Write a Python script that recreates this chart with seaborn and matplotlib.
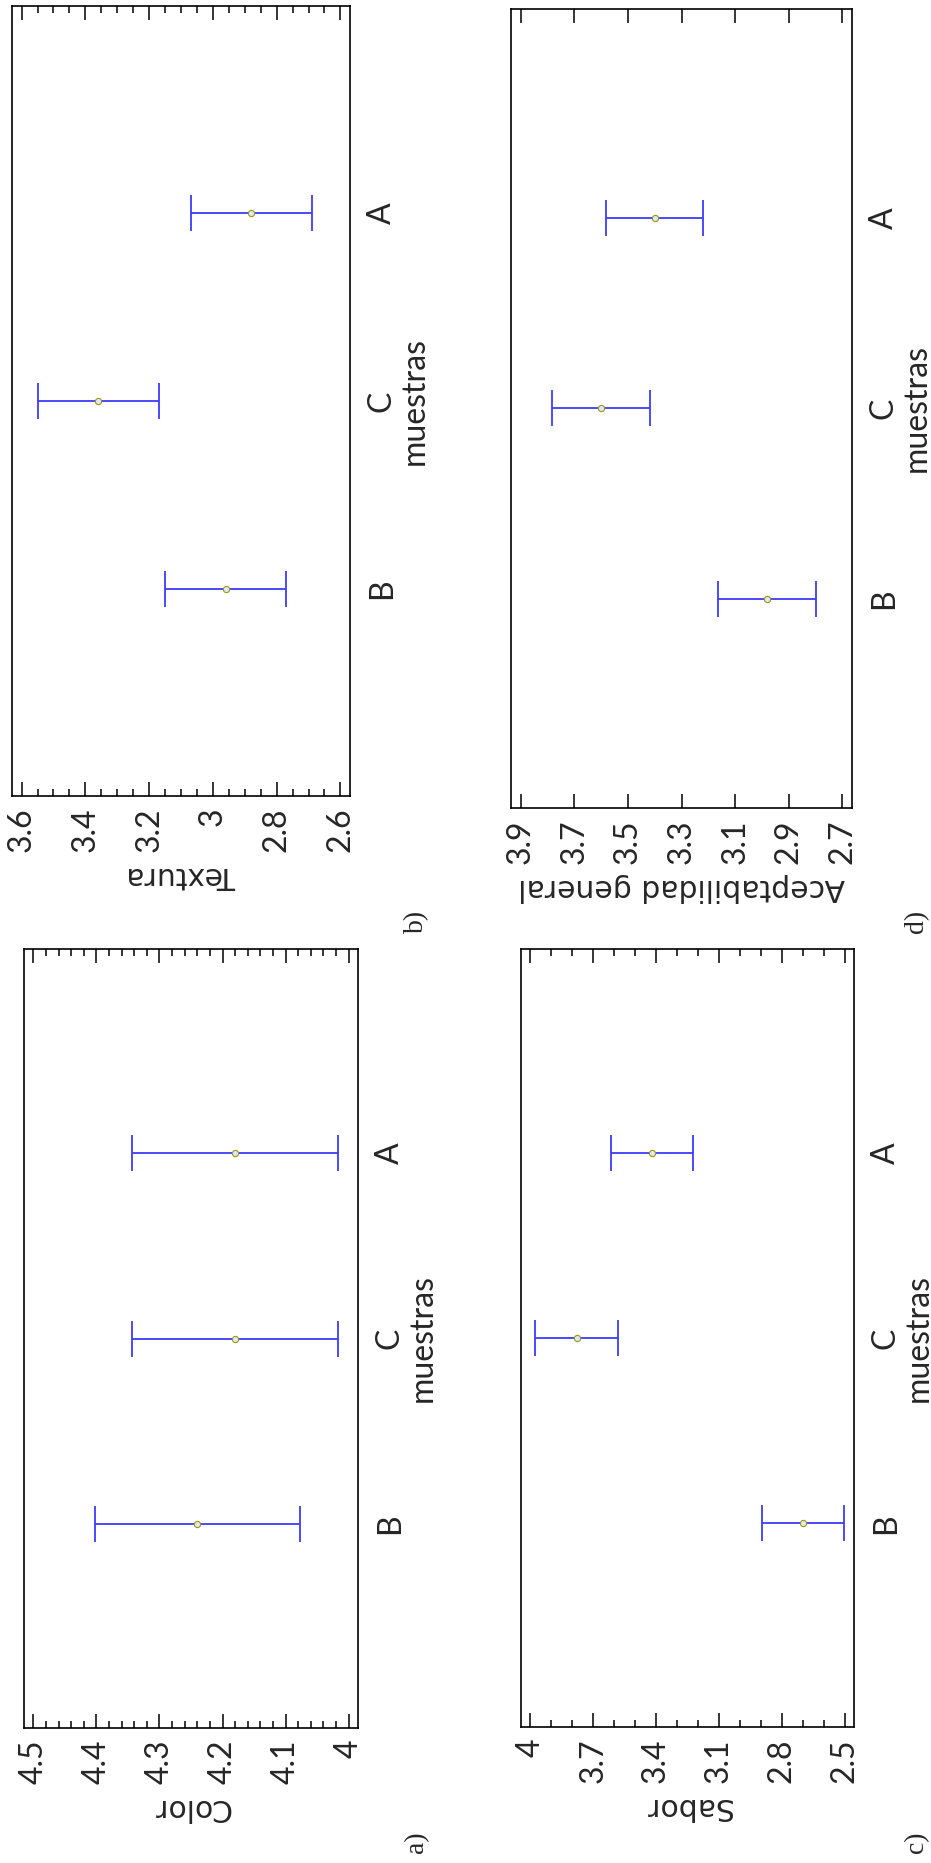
import numpy as np
import pandas as pd
import matplotlib
matplotlib.use("Agg")
import matplotlib.pyplot as plt
from matplotlib.ticker import MultipleLocator, NullLocator
import seaborn as sns

# ---------------- data ----------------
categories = ["B", "C", "A"]

color_mean = [4.24, 4.18, 4.18]
color_err = [0.163, 0.163, 0.163]
color_ticks = [4.5, 4.4, 4.3, 4.2, 4.1, 4.0]

textura_mean = [2.96, 3.36, 2.88]
textura_err = [0.19, 0.19, 0.19]
textura_ticks = [3.6, 3.4, 3.2, 3.0, 2.8, 2.6]

sabor_mean = [2.70, 3.78, 3.42]
sabor_err = [0.196, 0.197, 0.195]
sabor_ticks = [4.0, 3.7, 3.4, 3.1, 2.8, 2.5]

acep_mean = [2.98, 3.60, 3.40]
acep_err = [0.182, 0.183, 0.182]
acep_ticks = [3.9, 3.7, 3.5, 3.3, 3.1, 2.9, 2.7]

# ---------------- style ----------------
sns.set_theme(style="ticks")
plt.rcParams["font.family"] = ["Lato", "DejaVu Sans"]

W, H = 931, 1863
fig = plt.figure(figsize=(W / 100, H / 100), dpi=100)

BLUE = "#3b3bff"
OLIVE = "#9a9a00"

panels = [
    dict(label="Textura", mean=textura_mean, err=textura_err, ticks=textura_ticks,
         minor=0.05, pad=0.03, box=(12, 6, 350, 796), letter="b)", lpos=(417, 921)),
    dict(label="Aceptabilidad general", mean=acep_mean, err=acep_err, ticks=acep_ticks,
         minor=None, pad=0.036, box=(511, 9, 852, 808), letter="d)", lpos=(917, 921)),
    dict(label="Color", mean=color_mean, err=color_err, ticks=color_ticks,
         minor=0.02, pad=0.015, box=(24, 949, 358, 1728), letter="a)", lpos=(417, 1842)),
    dict(label="Sabor", mean=sabor_mean, err=sabor_err, ticks=sabor_ticks,
         minor=0.1, pad=0.045, box=(521, 949, 854, 1727), letter="c)", lpos=(917, 1842)),
]

for p in panels:
    x0, y0, x1, y1 = p["box"]
    ax = fig.add_axes([x0 / W, 1 - y1 / H, (x1 - x0) / W, (y1 - y0) / H])
    pos = np.arange(len(categories))

    ax.errorbar(p["mean"], pos, xerr=p["err"], fmt="none", ecolor=BLUE,
                elinewidth=1.3, capsize=12.8, capthick=1.3, zorder=2)
    df = pd.DataFrame({"muestra": categories, "valor": p["mean"], "pos": pos})
    sns.scatterplot(data=df, x="valor", y="pos", ax=ax, marker="o", s=20,
                    color="#e4e4ff", edgecolor=OLIVE, linewidth=0.8,
                    zorder=3, legend=False)

    hi, lo = max(p["ticks"]), min(p["ticks"])
    ax.set_xlim(hi + p["pad"], lo - p["pad"])
    ax.set_ylim(-1.1, 3.1)

    ax.set_xticks(p["ticks"])
    ax.set_xticklabels([f"{v:g}" for v in p["ticks"]], rotation=90, fontsize=23)
    if p["minor"]:
        ax.xaxis.set_minor_locator(MultipleLocator(p["minor"]))
    else:
        ax.xaxis.set_minor_locator(NullLocator())
    ax.tick_params(axis="x", which="both", direction="in", top=True, bottom=True,
                   color="black", width=1.1, pad=8)
    ax.tick_params(axis="x", which="major", length=10)
    ax.tick_params(axis="x", which="minor", length=5)

    ax.yaxis.tick_right()
    ax.set_yticks(pos)
    ax.set_yticklabels(categories, rotation=90, va="center", fontsize=23)
    ax.tick_params(axis="y", which="both", length=0, pad=12)

    ax.set_xlabel(p["label"], rotation=180, fontsize=21.5, labelpad=7,
                  fontfamily="DejaVu Sans")
    ax.yaxis.set_label_position("right")
    ax.set_ylabel("muestras", rotation=90, fontsize=23, labelpad=2)

    for s in ax.spines.values():
        s.set_visible(True)
        s.set_color("black")
        s.set_linewidth(1.2)
    ax.grid(False)

    fig.text(p["lpos"][0] / W, 1 - p["lpos"][1] / H, p["letter"], rotation=90,
             ha="center", va="center", fontsize=20, fontfamily="Liberation Serif")

fig.savefig("out.png", dpi=100)
